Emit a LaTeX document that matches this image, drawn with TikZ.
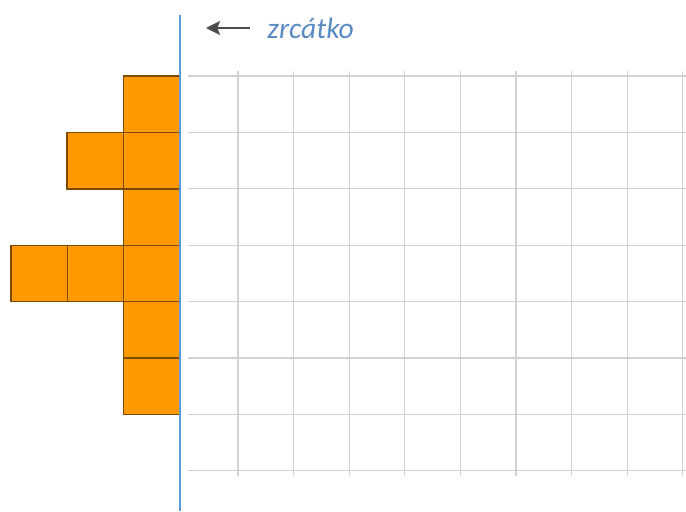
\documentclass[tikz,border=0pt]{standalone}
\usepackage{fontspec}
\newfontfamily\carlito{Carlito}
\usetikzlibrary{arrows.meta}
\definecolor{mirrorblue}{HTML}{5B9BD5}
\definecolor{textblue}{HTML}{5A8AC3}
\definecolor{cellorange}{HTML}{FF9900}
\definecolor{cellborder}{HTML}{7A4A00}

\begin{document}
\begin{tikzpicture}[
    x=0.02cm, y=-0.02cm,
    gridline/.style={draw=gray!35, line width=0.7pt},
    cell/.style={draw=cellborder, fill=cellorange, line width=0.8pt},
    mirror/.style={draw=mirrorblue, line width=1.7pt},
    pointer/.style={-{Stealth[length=8pt, width=8pt, inset=1.5pt]}, draw=black!70, line width=1.2pt},
    mirrorlabel/.style={font=\carlito\itshape\fontsize{16.8}{20}\selectfont, text=textblue, anchor=base west, inner sep=0pt}
]

% Frame of the picture
\useasboundingbox (0,0) rectangle (686,511);

% Grid right of the mirror
\foreach \r in {0,...,7}
    \draw[gridline] (188,{76+56.4*\r}) -- (686,{76+56.4*\r});
\foreach \c in {0,...,8}
    \draw[gridline] ({238+55.6*\c},71) -- ({238+55.6*\c},476);

% Orange shape left of the mirror
\foreach \c/\r in {0/0, 0/1, 1/1, 0/2, 0/3, 1/3, 2/3, 0/4, 0/5}
    \draw[cell] ({123.5-56.3*\c},{76+56.4*\r}) rectangle ++(56.5,56.4);

% Mirror
\coordinate (mtop) at (180,15);
\coordinate (mbot) at (180,511);
\draw[mirror] (mtop) -- (mbot);

% Label with arrow
\node[mirrorlabel] (lbl) at (267,38) {zrcátko};
\coordinate (tail) at (250,28);
\coordinate (tip) at (206,28);
\draw[pointer] (tail) -- (tip);

\end{tikzpicture}
\end{document}
